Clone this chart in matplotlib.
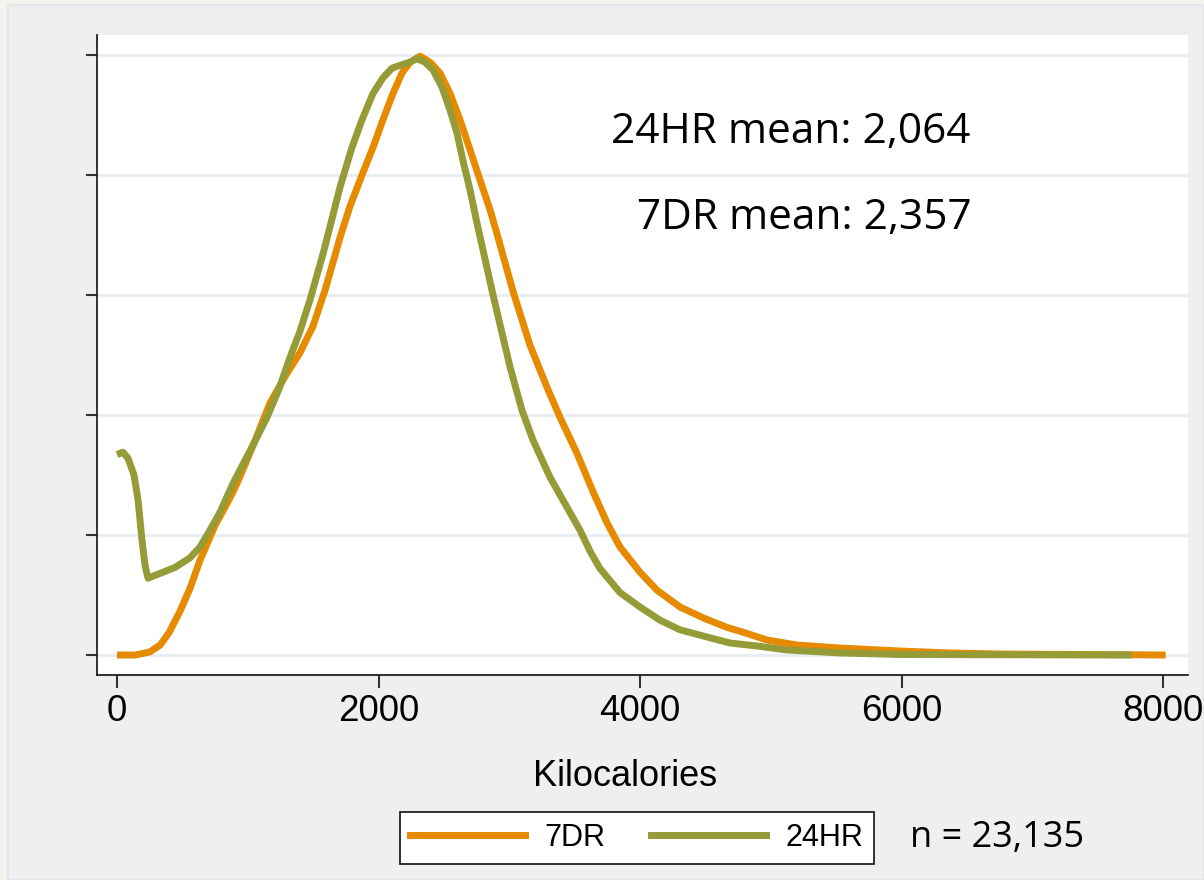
import matplotlib.pyplot as plt
from matplotlib.patches import Rectangle
from matplotlib.lines import Line2D

# kernel density of energy intake (density in 1e-4 units)
kcal_7dr = [0, 140, 250, 330, 400, 480, 560, 635, 750, 860, 918, 1050, 1170, 1290,
            1400, 1499, 1591, 1667, 1706, 1782, 1881, 1958, 2034, 2111, 2180, 2241,
            2317, 2394, 2470, 2547, 2623, 2700, 2776, 2853, 2914, 2970, 3029, 3159,
            3289, 3388, 3518, 3641, 3748, 3847, 4000, 4130, 4306, 4482, 4665, 4788,
            4971, 5201, 5530, 5990, 6370, 6750, 8020]
dens_7dr = [0, 0, 0.025, 0.083, 0.19, 0.36, 0.56, 0.79, 1.08, 1.3, 1.43, 1.77, 2.1, 2.33,
            2.52, 2.74, 3.04, 3.33, 3.48, 3.74, 4.02, 4.23, 4.46, 4.68, 4.85, 4.94,
            4.99, 4.94, 4.85, 4.68, 4.46, 4.21, 3.96, 3.71, 3.48, 3.26, 3.03, 2.58,
            2.23, 1.98, 1.68, 1.36, 1.1, 0.9, 0.69, 0.54, 0.4, 0.31, 0.23, 0.19,
            0.125, 0.083, 0.058, 0.033, 0.017, 0.008, 0]

kcal_24hr = [0, 45, 84, 130, 161, 191, 214, 237, 329, 444, 558, 635, 711, 788, 887,
             1017, 1147, 1240, 1323, 1400, 1476, 1575, 1629, 1706, 1797, 1874, 1958,
             2034, 2103, 2180, 2241, 2294, 2356, 2417, 2486, 2547, 2600, 2646, 2700,
             2753, 2876, 3006, 3097, 3182, 3312, 3442, 3541, 3620, 3694, 3847, 4000,
             4153, 4306, 4512, 4688, 4895, 5124, 5530, 5989, 7760]
dens_24hr = [1.67, 1.69, 1.64, 1.5, 1.29, 0.96, 0.75, 0.64, 0.68, 0.73, 0.81, 0.9, 1.04,
             1.19, 1.43, 1.7, 1.98, 2.22, 2.48, 2.7, 2.96, 3.34, 3.57, 3.9, 4.23, 4.46,
             4.68, 4.81, 4.89, 4.92, 4.94, 4.97, 4.94, 4.875, 4.73, 4.54, 4.35, 4.12,
             3.875, 3.6, 3.0, 2.4, 2.04, 1.79, 1.48, 1.23, 1.04, 0.86, 0.72, 0.52, 0.4,
             0.29, 0.21, 0.15, 0.1, 0.075, 0.042, 0.017, 0.004, 0]

xticks = [0, 2000, 4000, 6000, 8000]
yticks = [0, 1, 2, 3, 4, 5]
labels = ['7DR', '24HR']
notes = ['24HR mean: 2,064', '7DR mean: 2,357']
n_text = 'n = 23,135'

c_7dr = '#e68a00'
c_24hr = '#949b37'

W, H = 1204, 880
fig = plt.figure(figsize=(W / 100, H / 100), dpi=100)
fig.patch.set_facecolor('#f4f3ee')
fig.patches.append(Rectangle((8 / W, 0), 1 - 8 / W, 1 - 5 / H, transform=fig.transFigure,
                             facecolor='#efefef', edgecolor='#e2e6e8', lw=1.5, zorder=-10))

ax = fig.add_axes([97 / W, (H - 675) / H, (1188 - 97) / W, (675 - 35) / H])
ax.set_facecolor('white')
ax.plot(kcal_7dr, dens_7dr, color=c_7dr, lw=5, solid_capstyle='butt',
        solid_joinstyle='round', zorder=3)
ax.plot(kcal_24hr, dens_24hr, color=c_24hr, lw=5, solid_capstyle='butt',
        solid_joinstyle='round', zorder=4)

ax.set_xlim(-153, 8191)
ax.set_ylim(-1 / 6, 5 + 1 / 6)
ax.set_xticks(xticks)
ax.set_xticklabels([str(t) for t in xticks], fontsize=26.5, family='Liberation Sans')
ax.set_yticks(yticks)
ax.set_yticklabels([])
ax.grid(axis='y', color='#e6eef1', lw=2, zorder=1)
ax.set_axisbelow(True)
for s in ['top', 'right']:
    ax.spines[s].set_visible(False)
for s in ['left', 'bottom']:
    ax.spines[s].set_color('#222222')
    ax.spines[s].set_linewidth(1.3)
ax.tick_params(axis='y', length=8, width=1.5, color='#333333')
ax.tick_params(axis='x', length=9, width=1.5, color='#333333', pad=5)

fig.text(625 / W, 1 - 776 / H, 'Kilocalories', fontsize=26, family='Liberation Sans',
         ha='center', va='center')

fig.text(970 / W, 1 - 132 / H, notes[0], fontsize=30.5, family='Open Sans',
         ha='right', va='center')
fig.text(972 / W, 1 - 218 / H, notes[1], fontsize=30.5, family='Open Sans',
         ha='right', va='center')

handles = [Line2D([], [], color=c_7dr, lw=5), Line2D([], [], color=c_24hr, lw=5)]
leg = fig.legend(handles, labels, loc='center', bbox_to_anchor=(637 / W, 1 - 838 / H),
                 ncol=2, frameon=True, fancybox=False, framealpha=1, handlelength=3.75,
                 handletextpad=0.65, columnspacing=1.5, borderpad=0.35,
                 prop={'family': 'Liberation Sans', 'size': 22})
leg.get_frame().set_edgecolor('#222222')
leg.get_frame().set_linewidth(1.3)

fig.text(910 / W, 1 - 838 / H, n_text, fontsize=26, family='Open Sans',
         ha='left', va='center')

fig.savefig('out.png', dpi=100, facecolor=fig.get_facecolor())
